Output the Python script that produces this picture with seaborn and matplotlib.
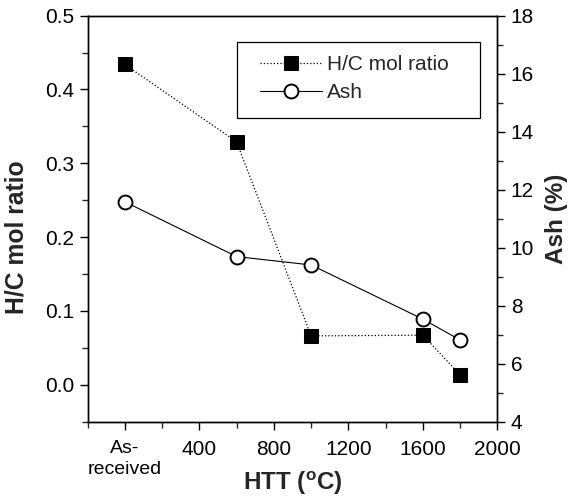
import matplotlib
matplotlib.use("Agg")
import matplotlib.pyplot as plt
import seaborn as sns
from matplotlib.ticker import MultipleLocator, FixedLocator
from matplotlib.patches import Rectangle

# Data
htt = [0, 600, 1000, 1600, 1800]
hc_ratio = [0.434, 0.329, 0.066, 0.067, 0.013]
ash = [11.58, 9.69, 9.40, 7.53, 6.81]
x_tick_pos = [0, 400, 800, 1200, 1600, 2000]
x_tick_labels = ["As-\nreceived", "400", "800", "1200", "1600", "2000"]

sns.set_style("ticks")
plt.rcParams["font.family"] = ["Liberation Sans", "DejaVu Sans"]
plt.rcParams["mathtext.fontset"] = "custom"
plt.rcParams["mathtext.rm"] = "Liberation Sans"
plt.rcParams["mathtext.bf"] = "Liberation Sans:bold"
plt.rcParams["axes.linewidth"] = 1.0

fig = plt.figure(figsize=(5.78, 4.98), dpi=100)
ax = fig.add_axes([0.1514, 0.1536, 0.7093, 0.8149])
ax2 = ax.twinx()

sns.lineplot(x=htt, y=hc_ratio, ax=ax, color="black", linestyle=":", linewidth=0.9,
             marker="s", markersize=10, markerfacecolor="black", markeredgecolor="black",
             label="H/C mol ratio", legend=False)
sns.lineplot(x=htt, y=ash, ax=ax2, color="black", linestyle="-", linewidth=0.8,
             marker="o", markersize=10, markerfacecolor="white", markeredgecolor="black",
             markeredgewidth=1.4, label="Ash", legend=False)

ax.set_xlim(-200, 2000)
ax.set_ylim(-0.05, 0.5)
ax2.set_ylim(4, 18)

ax.xaxis.set_major_locator(FixedLocator(x_tick_pos))
ax.set_xticklabels(x_tick_labels)
ax.xaxis.set_minor_locator(FixedLocator([-200, 200, 600, 1000, 1400, 1800]))
ax.yaxis.set_major_locator(FixedLocator([0.0, 0.1, 0.2, 0.3, 0.4, 0.5]))
ax.set_yticklabels(["0.0", "0.1", "0.2", "0.3", "0.4", "0.5"])
ax.yaxis.set_minor_locator(MultipleLocator(0.05))
ax2.yaxis.set_major_locator(MultipleLocator(2))
ax2.yaxis.set_minor_locator(MultipleLocator(1))

for a in (ax, ax2):
    a.tick_params(which="major", direction="out", length=6, width=1.0, labelsize=15, colors="black")
    a.tick_params(which="minor", direction="out", length=4, width=1.0)
    for s in a.spines.values():
        s.set_visible(True)
        s.set_color("black")
        s.set_linewidth(1.0)
ax.tick_params(axis="x", pad=7.5)
lbl0 = ax.get_xticklabels()[0]
lbl0.set_fontsize(14)
lbl0.set_linespacing(1.3)

ax.set_xlabel(r"HTT ($^{\mathbf{o}}$C)", fontsize=17.5, fontweight="bold")
ax.xaxis.set_label_coords(0.5, -0.118)
ax.set_ylabel("H/C mol ratio", fontsize=17.8, fontweight="bold")
ax.yaxis.set_label_coords(-0.143, 0.455)
ax2.set_ylabel("Ash (%)", fontsize=17.5, fontweight="bold", labelpad=8)

# legend frame
frame = Rectangle((0.365, 0.748), 0.592, 0.186, transform=ax2.transAxes,
                  facecolor="white", edgecolor="black", linewidth=0.9, zorder=4)
ax2.add_patch(frame)

h1, l1 = ax.get_legend_handles_labels()
h2, l2 = ax2.get_legend_handles_labels()
leg = ax2.legend(h1 + h2, l1 + l2, loc="upper left", bbox_to_anchor=(0.39, 0.934),
                 fontsize=15, frameon=False, handlelength=3.0, borderpad=0.6,
                 labelspacing=0.45, handletextpad=0.2, borderaxespad=0)
leg.set_zorder(5)

fig.savefig("out.png", dpi=100)
